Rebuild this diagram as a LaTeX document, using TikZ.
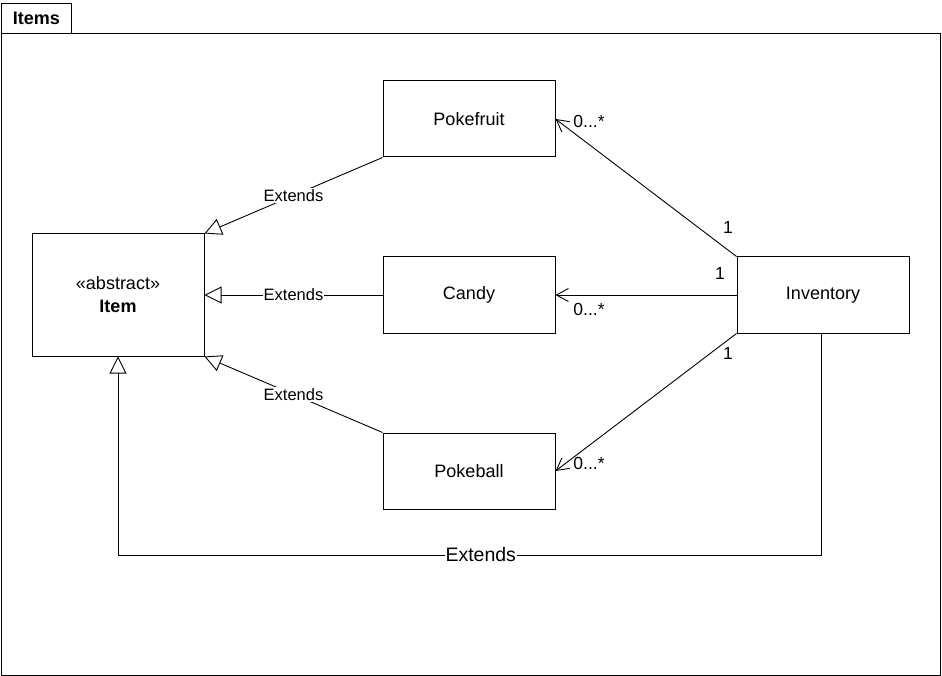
\documentclass[tikz,border=0pt]{standalone}
\usepackage{fontspec}
\setmainfont{Liberation Sans}
\usetikzlibrary{arrows.meta}
\begin{document}
\begin{tikzpicture}[x=1pt,y=-1pt,
  cls/.style={draw, line width=1pt, minimum width=172pt, minimum height=76pt, inner sep=0pt, font=\fontsize{18}{23}\selectfont, align=center},
  ext/.style={draw, line width=0.9pt, -{Triangle[open,length=17pt,width=17pt]}},
  assoc/.style={draw, line width=0.9pt, -{Straight Barb[length=12pt,width=13pt]}},
  extlbl/.style={fill=white, inner sep=1pt, font=\fontsize{16.5}{20}\selectfont},
  mult/.style={inner sep=0pt, font=\fontsize{17.5}{20}\selectfont}]
\useasboundingbox (0,0) rectangle (942,676);
\draw[line width=1pt] (1,34) rectangle (940,675);
\node[draw, line width=1pt, minimum width=70pt, minimum height=30pt, inner sep=0pt, anchor=south west, font=\bfseries\fontsize{18}{22}\selectfont] (tab) at (1,34) {Items};

\node[cls, minimum height=122pt] (Item) at (118,295) {«abstract»\\\textbf{Item}};
\node[cls] (Pokefruit) at (469,119) {Pokefruit};
\node[cls] (Candy) at (469,295) {Candy};
\node[cls] (Pokeball) at (469,471) {Pokeball};
\node[cls] (Inventory) at (823,295) {Inventory};

\draw[ext] (Pokefruit.south west) -- node[extlbl]{Extends} (Item.north east);
\draw[ext] (Candy.west) -- node[extlbl]{Extends} (Item.east);
\draw[ext] (Pokeball.north west) -- node[extlbl]{Extends} (Item.south east);

\coordinate (c1) at (821,555);
\coordinate (c2) at (118,555);
\draw[ext] ([xshift=-2pt]Inventory.south) -- (c1) -- node[extlbl, pos=0.484, font=\fontsize{19.5}{22}\selectfont]{Extends} (c2) -- (Item.south);

\draw[assoc] (Inventory.north west) -- (Pokefruit.east);
\draw[assoc] (Inventory.west) -- (Candy.east);
\draw[assoc] (Inventory.south west) -- (Pokeball.east);

\node[mult] (m1) at (589,121) {0...*};
\node[mult] (m2) at (589,309) {0...*};
\node[mult] (m3) at (589,463) {0...*};
\node[mult] (n1) at (728,227) {1};
\node[mult] (n2) at (720,273) {1};
\node[mult] (n3) at (728,353) {1};
\end{tikzpicture}
\end{document}
